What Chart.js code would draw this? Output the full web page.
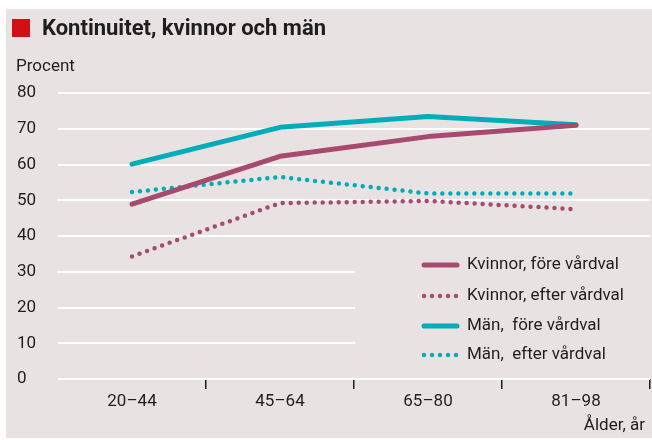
<!DOCTYPE html>
<html>
<head>
<meta charset="utf-8">
<script src="https://cdn.jsdelivr.net/npm/chart.js@4"></script>
<style>
  html, body { margin: 0; padding: 0; background: #fff; }
  #wrap { width: 652px; height: 440px; position: relative; }
</style>
</head>
<body>
<div id="wrap"><canvas id="chart"></canvas></div>
<script>
const ageGroups = ["20–44", "45–64", "65–80", "81–98"];
const womenBefore = [48.9, 62.3, 67.8, 71];
const womenAfter = [34.3, 49.2, 49.8, 47.5];
const menBefore = [60.1, 70.4, 73.4, 71.1];
const menAfter = [52.3, 56.5, 51.9, 51.9];
const seriesNames = ["Kvinnor, före vårdval", "Kvinnor, efter vårdval", "Män,  före vårdval", "Män,  efter vårdval"];
const yTicks = [0, 10, 20, 30, 40, 50, 60, 70, 80];

const pink = "#a84a70";
const teal = "#00adb8";
const bg = "#e8e2e3";
const txt = "#1e1e1e";
const font = "Roboto, 'Open Sans', sans-serif";

function lineSet(label, data, color, dotted) {
  return {
    label: label,
    data: data,
    borderColor: color,
    backgroundColor: color,
    borderWidth: dotted ? 4.5 : 5,
    borderDash: dotted ? [0, 8] : [],
    borderCapStyle: "round",
    borderJoinStyle: "round",
    pointRadius: 0,
    tension: 0
  };
}

// bakgrund, rubrik, legend och axeltexter
const decor = {
  id: "decor",
  beforeDraw(chart) {
    const c = chart.ctx;
    c.save();
    c.fillStyle = bg;
    c.fillRect(6, 9, 646, 429);
    c.restore();
  },
  afterDraw(chart) {
    const c = chart.ctx;
    const x = chart.scales.x, y = chart.scales.y;
    c.save();
    // legendruta täcker stödlinjerna
    const boxLeft = (x.getPixelForValue(1) + x.getPixelForValue(2)) / 2 + 1;
    const top = y.getPixelForValue(35), bottom = y.getPixelForValue(2);
    c.fillStyle = bg;
    c.fillRect(boxLeft, top, chart.chartArea.right - boxLeft + 4, bottom - top);

    c.fillStyle = "#d40f14";
    c.fillRect(12, 19, 18, 18);
    c.fillStyle = txt;
    c.font = "bold 22px " + font;
    c.textBaseline = "middle";
    c.fillText("Kontinuitet, kvinnor och män", 42, 29);
    c.font = "17px " + font;
    c.fillText("Procent", 16, 67);
    c.textAlign = "right";
    c.fillText("Ålder, år", 645, 426);
    c.textAlign = "left";

    const rows = [265, 296, 326, 355];
    chart.data.datasets.forEach((ds, i) => {
      c.strokeStyle = ds.borderColor;
      c.lineWidth = ds.borderWidth;
      c.lineCap = "round";
      c.setLineDash(ds.borderDash);
      c.beginPath();
      c.moveTo(424, rows[i]);
      c.lineTo(457, rows[i]);
      c.stroke();
      c.setLineDash([]);
      c.fillStyle = txt;
      c.fillText(ds.label, 467, rows[i]);
    });
    c.restore();
  }
};

new Chart(document.getElementById("chart"), {
  type: "line",
  data: {
    labels: ageGroups,
    datasets: [
      lineSet(seriesNames[0], womenBefore, pink, false),
      lineSet(seriesNames[1], womenAfter, pink, true),
      lineSet(seriesNames[2], menBefore, teal, false),
      lineSet(seriesNames[3], menAfter, teal, true)
    ]
  },
  options: {
    responsive: true,
    maintainAspectRatio: false,
    animation: false,
    layout: { padding: { top: 93, left: 17, right: 2, bottom: 0 } },
    plugins: { legend: { display: false }, tooltip: { enabled: false } },
    scales: {
      x: {
        offset: true,
        border: { display: false },
        grid: {
          offset: true,
          drawOnChartArea: false,
          tickLength: 10,
          lineWidth: 1.5,
          color: ctx => (ctx.index === 0 || ctx.index === ageGroups.length) ? "rgba(0,0,0,0)" : txt
        },
        ticks: { color: txt, font: { family: font, size: 17 }, padding: 3 },
        afterFit(scale) { scale.height = 61; }
      },
      y: {
        min: 0,
        max: 80,
        afterBuildTicks(scale) { scale.ticks = yTicks.map(v => ({ value: v })); },
        border: { display: false },
        grid: { color: "#ffffff", lineWidth: 2, drawTicks: false },
        ticks: { color: txt, font: { family: font, size: 17 }, crossAlign: "far", padding: 0 },
        afterFit(scale) { scale.width = 41; }
      }
    }
  },
  plugins: [decor]
});
</script>
</body>
</html>
